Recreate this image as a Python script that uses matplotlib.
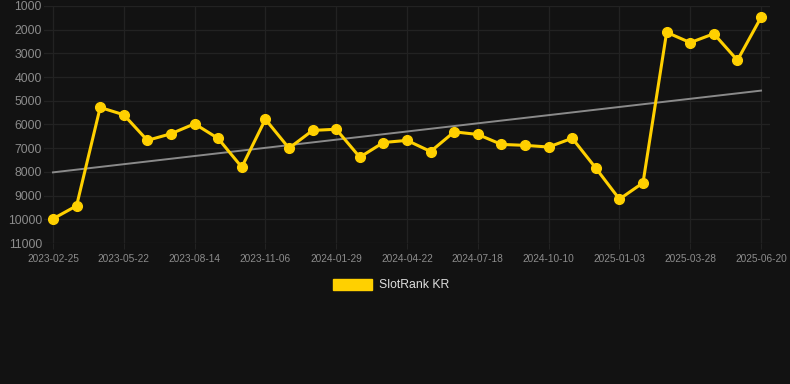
import numpy as np
import matplotlib.pyplot as plt
from matplotlib.patches import Patch

plt.rcParams['font.family'] = ['Liberation Sans', 'DejaVu Sans']

# monthly rank values, ticks every 3rd point
dates = ['2023-02-25', '2023-03-25', '2023-04-23', '2023-05-22', '2023-06-19', '2023-07-17',
         '2023-08-14', '2023-09-11', '2023-10-09', '2023-11-06', '2023-12-04', '2024-01-01',
         '2024-01-29', '2024-02-26', '2024-03-25', '2024-04-22', '2024-05-20', '2024-06-19',
         '2024-07-18', '2024-08-15', '2024-09-12', '2024-10-10', '2024-11-07', '2024-12-05',
         '2025-01-03', '2025-01-31', '2025-02-28', '2025-03-28', '2025-04-25', '2025-05-23',
         '2025-06-20']
ranks = [9980, 9430, 5280, 5590, 6670, 6390, 5970, 6590, 7800, 5780, 7000, 6250,
         6200, 7380, 6760, 6670, 7140, 6310, 6420, 6840, 6880, 6950, 6580, 7840,
         9150, 8460, 2110, 2545, 2170, 3290, 1480]
trend_ends = [8020, 4570]
yticks = [1000, 2000, 3000, 4000, 5000, 6000, 7000, 8000, 9000, 10000, 11000]

bg = '#121212'
fig = plt.figure(figsize=(7.9, 3.84), dpi=100, facecolor=bg)
ax = fig.add_axes([44/790, 1-243/384, (770-44)/790, (243-6)/384])
ax.set_facecolor(bg)

x = np.arange(len(dates))
ax.plot([x[0], x[-1]], trend_ends, color='#8a8a8a', lw=1.4, zorder=2)
ax.plot(x, ranks, color='#FFD000', lw=2.2, marker='o', ms=7, zorder=3)

ax.set_ylim(11000, 1000)
ax.set_xlim(-0.38, len(dates) - 1 + 0.38)
ax.set_yticks(yticks)
ax.set_yticklabels([str(v) for v in yticks])
ax.set_xticks(x[::3])
ax.set_xticklabels(dates[::3])
ax.grid(True, color='#222222', lw=0.9)
for s in ax.spines.values():
    s.set_visible(False)
ax.tick_params(axis='y', length=0, pad=1.5, labelsize=8.8, labelcolor='#8c8c8c')
ax.tick_params(axis='x', length=4, color='#222222', pad=4, labelsize=7.3, labelcolor='#8c8c8c')

leg = fig.legend(handles=[Patch(color='#FFD000', label='SlotRank KR')],
                 loc='center', bbox_to_anchor=(391/790, 1-285/384), frameon=False,
                 handlelength=3.2, handleheight=1.0, fontsize=8.8, labelcolor='#dddddd',
                 handletextpad=0.6)

fig.savefig('out.png', dpi=100, facecolor=bg)
